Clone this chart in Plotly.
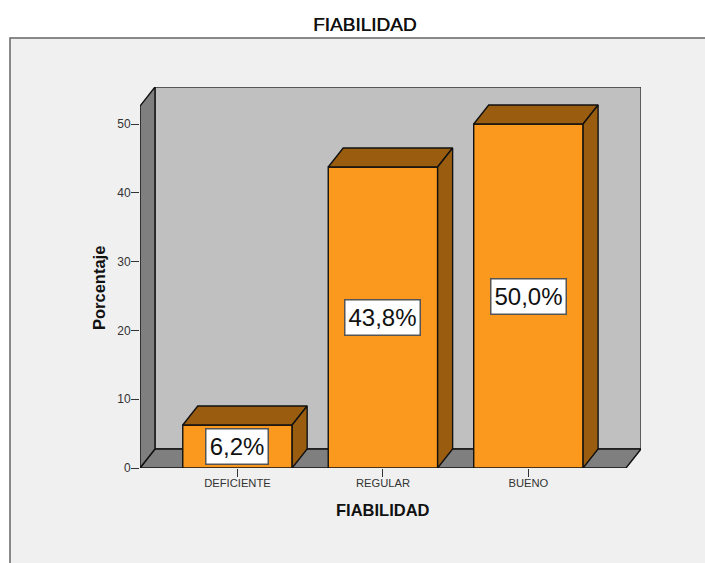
import plotly.graph_objects as go

categories = ["DEFICIENTE", "REGULAR", "BUENO"]
percentages = [6.25, 43.75, 50.0]
value_labels = ["6,2%", "43,8%", "50,0%"]
y_ticks = [0, 10, 20, 30, 40, 50]

FONT = "Liberation Sans, Arial, sans-serif"
INK = "#111111"
TICK_INK = "#333333"
BAR_FRONT = "#FB991F"
BAR_SHADE = "#9A5D10"
WALL_BACK = "#C0C0C0"
WALL_DARK = "#7F7F7F"
PANEL = "#F0F0F0"

# Chart box in window pixels
W, H = 705, 563
LEFT, RIGHT, TOP, BOTTOM = 140, 641, 87, 468
X_MIN, X_MAX = -0.670, 2.774
Y_MAX = 55.38
BAR_W = 0.752

# Oblique depth of the 3D box, in axis units
DX = 0.103
DY = 2.76
WALL_TOP = 52.6
FLOOR_END = X_MAX - DX


def polygon(points):
    return "M " + " L ".join(f"{x},{y}" for x, y in points) + " Z"


def paper_x(px):
    return (px - LEFT) / (RIGHT - LEFT)


def paper_y(py):
    return (BOTTOM - py) / (BOTTOM - TOP)


edge = dict(color=INK, width=1.4)
shapes = [
    # Panel behind the chart, with a border on its top and left sides
    dict(type="rect", xref="paper", yref="paper", layer="below",
         x0=paper_x(10), x1=paper_x(W + 5), y0=paper_y(38), y1=paper_y(H + 5),
         fillcolor=PANEL, line=dict(color="#666666", width=1.5)),
    # Back wall, floor and left wall of the box
    dict(type="path", xref="x", yref="y", layer="below",
         path=polygon([(X_MIN + DX, DY), (X_MAX, DY), (X_MAX, Y_MAX), (X_MIN + DX, Y_MAX)]),
         fillcolor=WALL_BACK, line=dict(color="#333333", width=1.4)),
    dict(type="path", xref="x", yref="y", layer="below",
         path=polygon([(X_MIN, 0), (FLOOR_END, 0), (X_MAX, DY), (X_MIN + DX, DY)]),
         fillcolor=WALL_DARK, line=edge),
    dict(type="path", xref="x", yref="y", layer="below",
         path=polygon([(X_MIN, 0), (X_MIN + DX, DY), (X_MIN + DX, Y_MAX), (X_MIN, WALL_TOP)]),
         fillcolor=WALL_DARK, line=edge),
]

fig = go.Figure()

positions = list(range(len(categories)))
fig.add_trace(go.Bar(
    x=positions, y=percentages, width=BAR_W,
    marker=dict(color=BAR_FRONT, line=dict(color=INK, width=1.4)),
    hoverinfo="skip", showlegend=False,
))

# Top and side faces of each bar
for pos, val in zip(positions, percentages):
    x0, x1 = pos - BAR_W / 2, pos + BAR_W / 2
    fig.add_trace(go.Scatter(
        x=[x0, x1, x1 + DX, x0 + DX, x0], y=[val, val, val + DY, val + DY, val],
        mode="lines", fill="toself", fillcolor=BAR_SHADE, line=edge,
        hoverinfo="skip", showlegend=False,
    ))
    fig.add_trace(go.Scatter(
        x=[x1, x1 + DX, x1 + DX, x1, x1], y=[0, DY, val + DY, val, 0],
        mode="lines", fill="toself", fillcolor=BAR_SHADE, line=edge,
        hoverinfo="skip", showlegend=False,
    ))

annotations = [
    dict(x=pos, y=val / 2, xref="x", yref="y", text=label, showarrow=False,
         font=dict(family=FONT, size=24, color=INK), bgcolor="white",
         bordercolor="#555555", borderwidth=1.5, width=len(label) * 13 + 9, height=34, borderpad=0)
    for pos, val, label in zip(positions, percentages, value_labels)
]
annotations += [
    dict(x=paper_x(364), y=paper_y(24), xref="paper", yref="paper", text="FIABILIDAD",
         xanchor="center", yanchor="middle", showarrow=False,
         font=dict(family=FONT, size=19, color=INK, shadow="0.4px 0 0 #111111")),
    dict(x=1, y=paper_y(510), xref="x", yref="paper", text="<b>FIABILIDAD</b>",
         xanchor="center", yanchor="middle", showarrow=False,
         font=dict(family=FONT, size=16.5, color=INK)),
    dict(x=paper_x(99), y=paper_y(288), xref="paper", yref="paper", text="<b>Porcentaje</b>",
         xanchor="center", yanchor="middle", textangle=-90, showarrow=False,
         font=dict(family=FONT, size=16.5, color=INK)),
]

fig.update_layout(
    width=W, height=H, autosize=False,
    margin=dict(l=LEFT, r=W - RIGHT, t=TOP, b=H - BOTTOM, pad=0),
    paper_bgcolor="white", plot_bgcolor="rgba(0,0,0,0)",
    font=dict(family=FONT, color=INK),
    shapes=shapes, annotations=annotations, showlegend=False,
    xaxis=dict(
        range=[X_MIN, X_MAX], tickmode="array", tickvals=positions, ticktext=categories,
        ticks="outside", ticklen=8, tickwidth=1.4, tickcolor=TICK_INK, ticklabelstandoff=-3,
        tickfont=dict(family=FONT, size=11.2, color=TICK_INK), showgrid=False, zeroline=False,
        showline=False,
    ),
    yaxis=dict(
        range=[0, Y_MAX], tickmode="array", tickvals=y_ticks,
        ticks="outside", ticklen=8, tickwidth=1.4, tickcolor=TICK_INK, ticklabelstandoff=-2,
        tickfont=dict(family=FONT, size=12, color=TICK_INK), showgrid=False, zeroline=False,
        showline=False,
    ),
)

fig.write_html("out.html")
